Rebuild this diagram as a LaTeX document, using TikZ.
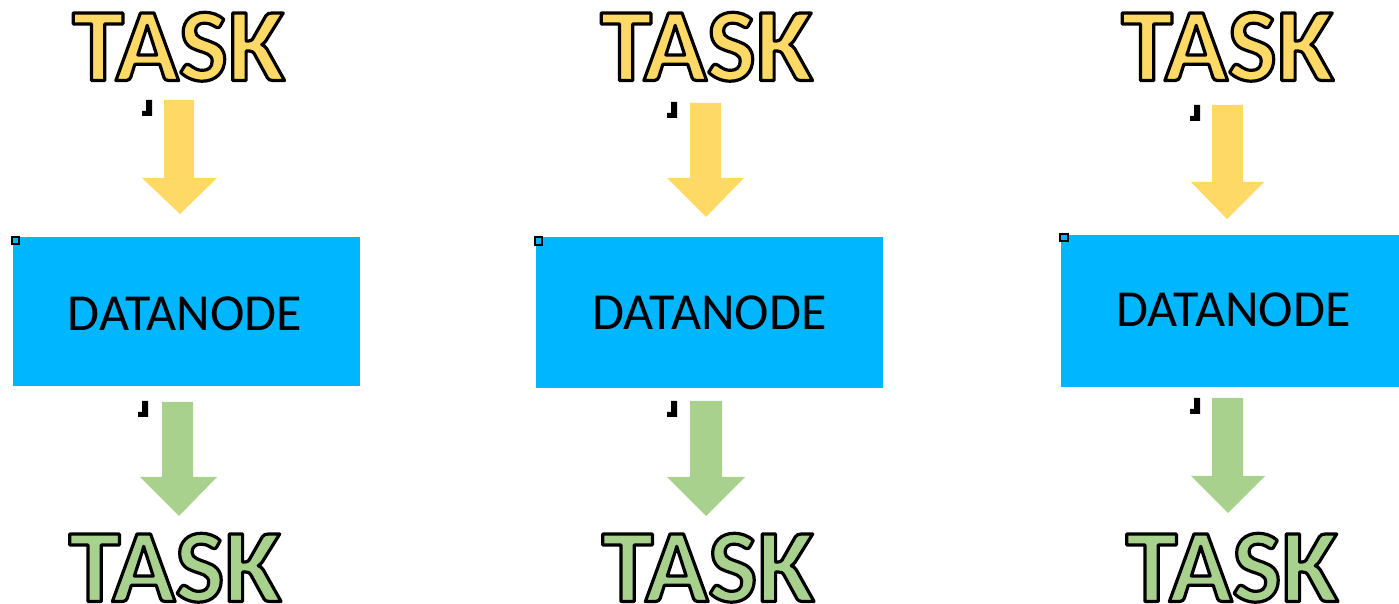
\documentclass[tikz,border=0pt]{standalone}
\usepackage{fontspec}
\setmainfont{Carlito}
\definecolor{taskyellow}{HTML}{FFD966}
\definecolor{taskgreen}{HTML}{A9D18E}
\definecolor{nodeblue}{HTML}{00B7FF}
% outlined lettering: fill in the current colour, black stroke round each glyph
\newcommand\outlined[2]{\textcolor{#1}{\special{pdf:literal direct 0 0 0 RG 1.6 w 1 j 2 Tr}#2\special{pdf:literal direct 0 Tr}}}
\tikzset{
  tasklabel/.style={anchor=base, inner sep=0pt, font=\fontsize{52pt}{56pt}\selectfont\bfseries},
  datalabel/.style={anchor=base, inner sep=0pt, font=\fontsize{26pt}{30pt}\selectfont},
  databox/.style={fill=nodeblue, draw=none},
  handle/.style={draw=black, line width=1pt, fill=nodeblue, minimum size=3.6pt, inner sep=0pt},
  tickmark/.pic={\fill[black] (0,0) -- (0,-16) -- (-6,-16) -- (-6,-5) -- (-10,-5) -- (-10,0) -- cycle;},
}
% downward block arrow: #1 colour, #2 shaft left, #3 shaft right, #4 top,
% #5 shaft bottom, #6 head left, #7 head right, #8 tip x, #9 tip y
\newcommand\downblock[9]{%
  \fill[#1] (#2,#4) -- (#3,#4) -- (#3,#5) -- (#7,#5) -- (#8,#9) -- (#6,#5) -- (#2,#5) -- cycle;}
\begin{document}
\begin{tikzpicture}[x=0.5pt, y=-0.5pt]
\useasboundingbox (0,0) rectangle (1399,604);

% ---- column 1 ----
\node[tasklabel] (t1) at (178.5,80.5) {\outlined{taskyellow}{TASK}};
\pic at (152,116) {tickmark};
\downblock{taskyellow}{164}{194}{100}{178}{142}{217}{180}{214}
\fill[databox] (13,237) rectangle (360,386);
\node[datalabel] (d1) at (185,331) {DATANODE};
\node[handle] (h1) at (15.5,240.5) {};
\pic at (148,417) {tickmark};
\downblock{taskgreen}{162}{193}{402}{477}{140}{217}{179}{516}
\node[tasklabel] (b1) at (175,601.5) {\outlined{taskgreen}{TASK}};

% ---- column 2 ----
\node[tasklabel] (t2) at (706.5,80.5) {\outlined{taskyellow}{TASK}};
\pic at (677,118) {tickmark};
\downblock{taskyellow}{690}{721}{103}{178}{667}{744}{706}{217}
\fill[databox] (536,237) rectangle (883,388);
\node[datalabel] (d2) at (709.5,330) {DATANODE};
\node[handle] (h2) at (538.5,241) {};
\pic at (677,417) {tickmark};
\downblock{taskgreen}{690}{722}{401}{477}{667}{745}{706}{516}
\node[tasklabel] (b2) at (708,601.5) {\outlined{taskgreen}{TASK}};

% ---- column 3 ----
\node[tasklabel] (t3) at (1227.5,80.5) {\outlined{taskyellow}{TASK}};
\pic at (1200,121) {tickmark};
\downblock{taskyellow}{1212}{1243}{105}{182}{1191}{1264}{1227}{219}
\fill[databox] (1061,235) rectangle (1399,387);
\node[datalabel] (d3) at (1233.5,327) {DATANODE};
\node[handle] (h3) at (1064,237.5) {};
\pic at (1200,414) {tickmark};
\downblock{taskgreen}{1212}{1243}{398}{476}{1191}{1265}{1228}{513}
\node[tasklabel] (b3) at (1232,601.5) {\outlined{taskgreen}{TASK}};
\end{tikzpicture}
\end{document}
